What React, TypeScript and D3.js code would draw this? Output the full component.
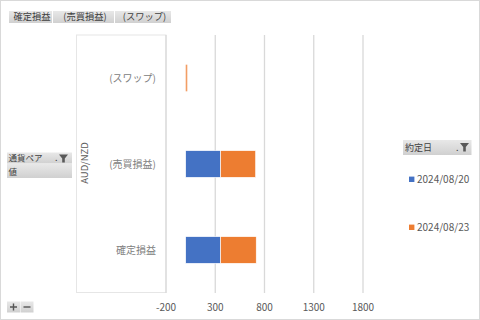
import React from "react";
import * as d3 from "d3";

const categories = ["確定損益", "(売買損益)", "(スワップ)"];
const seriesNames = ["2024/08/20", "2024/08/23"];
const seriesA = [355, 355, 0];
const seriesB = [361, 355, 6];
const tickValues = [-200, 300, 800, 1300, 1800];
const topButtons = ["確定損益", "(売買損益)", "(スワップ)"];
const colors = ["#4472C4", "#ED7D31"];

const W = 480;
const H = 320;
const FONT = "'Noto Sans CJK JP', 'Noto Sans', sans-serif";

export default function App() {
  const x = d3.scaleLinear().domain([-200, 2200]).range([166, 402.4]);
  const y = d3
    .scaleBand<string>()
    .domain([...categories].reverse())
    .range([35, 293])
    .paddingInner(0.69)
    .paddingOuter(0.345);

  const btnEdges = [9, 53, 115, 172];

  return (
    <svg
      width={W}
      height={H}
      style={{ position: "absolute", left: 0, top: 0, background: "#fff" }}
      fontFamily={FONT}
    >
      <defs>
        <linearGradient id="btn" x1="0" y1="0" x2="0" y2="1">
          <stop offset="0" stopColor="#e8e8e8" />
          <stop offset="1" stopColor="#d0d0d0" />
        </linearGradient>
      </defs>
      <rect x={0.5} y={0.5} width={W - 1} height={H - 1} fill="#fff" stroke="#d9d9d9" />

      {/* top field buttons */}
      {topButtons.map((t, i) => (
        <g key={t}>
          <rect
            x={btnEdges[i]}
            y={11}
            width={btnEdges[i + 1] - btnEdges[i] - 1}
            height={12}
            fill="url(#btn)"
          />
          <text
            x={(btnEdges[i] + btnEdges[i + 1]) / 2 + 1}
            y={20.3}
            fontSize={9.3}
            textAnchor="middle"
            fill="#404040"
          >
            {t}
          </text>
        </g>
      ))}

      {/* axis label box */}
      <rect x={76.5} y={35} width={89.5} height={257.5} fill="none" stroke="#e6e6e6" />

      {/* gridlines */}
      {tickValues.map((v) => (
        <line
          key={v}
          x1={x(v)}
          x2={x(v)}
          y1={35}
          y2={293}
          stroke="#d9d9d9"
          strokeWidth={1.3}
        />
      ))}

      {/* bars */}
      {categories.map((c, i) => {
        const y0 = y(c)!;
        const h = y.bandwidth();
        const a = seriesA[i];
        const b = seriesB[i];
        return (
          <g key={c}>
            {a > 0 && (
              <rect
                x={x(0)}
                y={y0}
                width={x(a) - x(0)}
                height={h}
                fill={colors[0]}
                stroke="#fff"
                strokeWidth={0.6}
              />
            )}
            {b > 0 && (
              <rect
                x={x(a)}
                y={y0}
                width={Math.max(x(a + b) - x(a), 1.6)}
                height={h}
                fill={colors[1]}
                stroke={a > 0 ? "#fff" : "none"}
                strokeWidth={0.6}
                opacity={a > 0 ? 1 : 0.75}
              />
            )}
          </g>
        );
      })}

      {/* category labels */}
      {categories.map((c) => (
        <text
          key={c}
          x={156}
          y={y(c)! + y.bandwidth() / 2 + 3.5}
          textAnchor="end"
          fontSize={10}
          fill="#808080"
        >
          {c}
        </text>
      ))}

      {/* outer category label */}
      <text
        transform={`translate(87.5, 163) rotate(-90)`}
        textAnchor="middle"
        fontSize={9.5}
        fill="#595959"
      >
        AUD/NZD
      </text>

      {/* tick labels */}
      {tickValues.map((v) => (
        <text
          key={v}
          x={x(v)}
          y={311}
          textAnchor="middle"
          fontSize={10}
          fill="#595959"
        >
          {v}
        </text>
      ))}

      {/* row field buttons */}
      <rect x={7} y={152.5} width={65} height={11} fill="url(#btn)" />
      <text x={8.5} y={161.3} fontSize={8.5} fill="#404040">通貨ペア</text>
      <text x={55} y={161.3} fontSize={9} fill="#404040">.</text>
      <path d="M59,154.5 h9 l-3.2,4 v4 h-2.6 v-4 z" fill="#595959" />
      <rect x={7} y={164} width={65} height={14} fill="url(#btn)" />
      <text x={8.5} y={174.5} fontSize={8.5} fill="#404040">値</text>

      {/* legend field button */}
      <rect x={403} y={140} width={68.5} height={15} fill="url(#btn)" />
      <text x={405} y={151} fontSize={9} fill="#404040">約定日</text>
      <text x={456} y={151} fontSize={9} fill="#404040">.</text>
      <path d="M460,143 h9 l-3.2,4 v4.5 h-2.6 v-4.5 z" fill="#595959" />

      {/* legend */}
      {seriesNames.map((s, i) => {
        const ly = i === 0 ? 179.3 : 227.3;
        return (
          <g key={s}>
            <rect x={409} y={ly - 2.7} width={5.4} height={5.4} fill={colors[i]} />
            <text x={417} y={ly + 3.5} fontSize={10} fill="#595959">
              {s}
            </text>
          </g>
        );
      })}

      {/* +/- buttons */}
      <rect x={7} y={301.5} width={13} height={11} fill="url(#btn)" />
      <rect x={20.5} y={301.5} width={13} height={11} fill="url(#btn)" />
      <path d="M10,307 h7 M13.5,303.5 v7" stroke="#555" strokeWidth={1.4} />
      <path d="M23.5,307 h7" stroke="#555" strokeWidth={1.4} />
    </svg>
  );
}
